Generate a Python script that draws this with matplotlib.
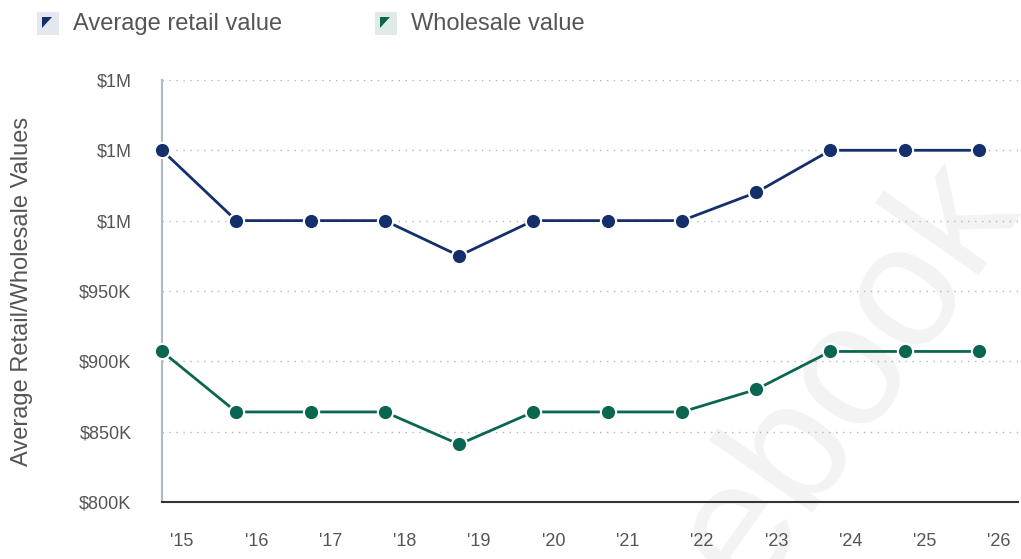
import matplotlib.pyplot as plt
import matplotlib.transforms as mtransforms
from matplotlib.patches import Rectangle, Polygon
from matplotlib.ticker import FuncFormatter

# Average retail vs wholesale value per year

years = ["'15", "'16", "'17", "'18", "'19", "'20", "'21", "'22", "'23", "'24", "'25", "'26"]
retail = [1050000, 1000000, 1000000, 1000000, 975000, 1000000,
          1000000, 1000000, 1020000, 1050000, 1050000, 1050000]
wholesale = [907000, 864000, 864000, 864000, 841000, 864000,
             864000, 864000, 880000, 907000, 907000, 907000]

NAVY = '#142f6b'
GREEN = '#0a6650'
TEXT = '#555555'

plt.rcParams['font.family'] = ['Liberation Sans', 'DejaVu Sans']

fig = plt.figure(figsize=(10.21, 5.59), dpi=100)
ax = fig.add_axes([0.1587, 0.102, 0.838, 0.755])
ax.set_zorder(2)
ax.set_facecolor('none')

# faint watermark behind the chart
fig.text(0.83, 0.33, 'ebook', fontsize=125, color='#f3f3f3', rotation=55,
         ha='center', va='center', zorder=0)

x = list(range(len(years)))
ax.plot(x, retail, color=NAVY, lw=2, marker='o', ms=11,
        mec='white', mew=1.5, mfc=NAVY, zorder=3, clip_on=False)
ax.plot(x, wholesale, color=GREEN, lw=2, marker='o', ms=11,
        mec='white', mew=1.5, mfc=GREEN, zorder=3, clip_on=False)

ax.set_xlim(0, 11.52)
ax.set_ylim(800000, 1100000)
ax.set_yticks([800000, 850000, 900000, 950000, 1000000, 1050000, 1100000])


def money(v, pos):
    if v >= 1e6 - 1:
        return f'${v / 1e6:.0f}M'
    return f'${v / 1e3:.0f}K'


ax.yaxis.set_major_formatter(FuncFormatter(money))
ax.set_xticks(x)
ax.set_xticklabels(years)

ax.grid(axis='y', color='#b5b5b5', linestyle=(0, (1, 4)), lw=1)
ax.grid(axis='x', visible=False)
ax.tick_params(length=0, labelsize=13, labelcolor=TEXT)
ax.tick_params(axis='y', pad=22)
ax.tick_params(axis='x', pad=22)

offset = mtransforms.ScaledTranslation(0.2, 0, fig.dpi_scale_trans)
for lbl in ax.get_xticklabels():
    lbl.set_transform(lbl.get_transform() + offset)

for side in ['top', 'right']:
    ax.spines[side].set_visible(False)
ax.spines['left'].set_color('#b0b8c4')
ax.spines['left'].set_linewidth(1.5)
ax.spines['bottom'].set_color('#333333')
ax.spines['bottom'].set_linewidth(1.5)

ax.set_ylabel('Average Retail/Wholesale Values', fontsize=17, color=TEXT, labelpad=33)

# legend icons
W, H = 1021, 559
legend_items = [(37, 'Average retail value', NAVY, '#e3e7ef'),
                (375, 'Wholesale value', GREEN, '#e0ebe7')]
for lx, label, col, bg in legend_items:
    fig.add_artist(Rectangle((lx / W, 1 - 35 / H), 22 / W, 23 / H,
                             transform=fig.transFigure, color=bg, lw=0))
    tri = [((lx + 5) / W, 1 - 17 / H), ((lx + 15) / W, 1 - 17 / H), ((lx + 5) / W, 1 - 28 / H)]
    fig.add_artist(Polygon(tri, closed=True, transform=fig.transFigure, color=col, lw=0))
    fig.text((lx + 36) / W, 1 - 24 / H, label, fontsize=17, color=TEXT, va='center', ha='left')

fig.savefig('out.png', dpi=100)
